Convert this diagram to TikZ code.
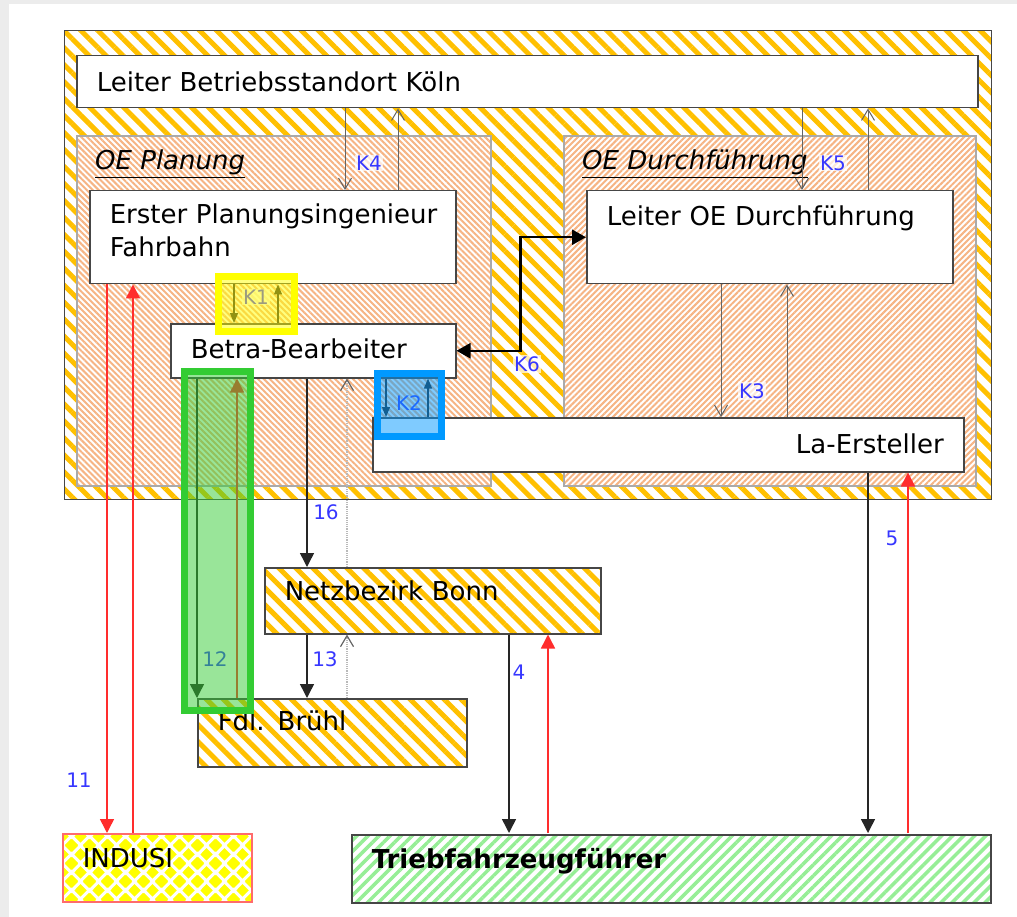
\documentclass[tikz,border=0pt]{standalone}
\usepackage{fontspec}
\setmainfont{DejaVu Sans}
\usetikzlibrary{arrows.meta,patterns,patterns.meta}
\definecolor{stripeyellow}{RGB}{255,192,0}
\definecolor{hatchorange}{RGB}{246,180,132}
\definecolor{stripegreen}{RGB}{150,238,150}
\definecolor{labelblue}{RGB}{55,55,255}
\definecolor{boxline}{RGB}{70,70,70}
\definecolor{regionline}{RGB}{170,170,170}
\definecolor{arrowred}{RGB}{255,45,45}
\definecolor{commgray}{RGB}{100,100,100}
\definecolor{markyellow}{RGB}{255,255,0}
\definecolor{markgreen}{RGB}{51,204,51}
\definecolor{markblue}{RGB}{0,153,255}
\newcommand{\indusidiamond}[2]{%
  \pgfpathmoveto{\pgfpoint{#1pt-6.5pt}{#2pt}}
  \pgfpathlineto{\pgfpoint{#1pt}{#2pt+6.5pt}}
  \pgfpathlineto{\pgfpoint{#1pt+6.5pt}{#2pt}}
  \pgfpathlineto{\pgfpoint{#1pt}{#2pt-6.5pt}}
  \pgfpathclose}
\pgfdeclarepatternformonly{indusi diamonds}{\pgfpointorigin}{\pgfpoint{18pt}{18pt}}{\pgfpoint{18pt}{18pt}}{%
  \indusidiamond{9}{9}
  \indusidiamond{0}{0}
  \indusidiamond{18}{0}
  \indusidiamond{0}{18}
  \indusidiamond{18}{18}
  \pgfusepath{fill}}
\newcommand{\boxfont}{\fontsize{26}{33}\selectfont}
\newcommand{\flowfont}{\fontsize{20}{24}\selectfont}
\tikzset{
  orgbox/.style={rectangle, draw=boxline, line width=1.5pt, inner xsep=20pt, inner ysep=0pt,
    anchor=north west, align=left, font=\boxfont, text height=19pt},
  whitebox/.style={orgbox, fill=white},
  stripebox/.style={orgbox, preaction={fill=white},
    pattern={Lines[angle=-45,distance=12pt,line width=5pt]}, pattern color=stripeyellow},
  region/.style={rectangle, draw=regionline, line width=1.2pt, anchor=north west, inner sep=0pt,
    preaction={fill=white},
    pattern={Lines[angle=#1,distance=4.2pt,line width=2pt]}, pattern color=hatchorange},
  regiontitle/.style={anchor=base west, font=\boxfont\itshape, inner sep=0pt},
  flow/.style={draw=black!85, line width=1.5pt, -{Triangle[width=14pt,length=14pt]}},
  redflow/.style={draw=arrowred, line width=1.5pt, -{Triangle[width=14pt,length=14pt]}},
  smallflow/.style={draw=black!85, line width=1.2pt, -{Triangle[width=8pt,length=10pt]}},
  comm/.style={draw=commgray, line width=1pt, -{Straight Barb[width=13pt,length=11pt]}},
  dotcomm/.style={draw=gray!55, line width=1.2pt, densely dotted,
    -{Straight Barb[width=13pt,length=11pt,color=commgray]}},
  bothflow/.style={draw=black, line width=2.5pt, {Triangle[width=15pt,length=14pt]}-{Triangle[width=15pt,length=14pt]}},
  flowlabel/.style={font=\flowfont, text=labelblue, fill=white, fill opacity=0.7, text opacity=1, inner sep=1pt},
  markbox/.style={draw=#1, line width=7pt, fill=#1, fill opacity=0.5}
}
\begin{document}
\begin{tikzpicture}[x=1pt,y=-1pt]
\useasboundingbox (0,0) rectangle (1017,917);
\fill[gray!15] (0,0) rectangle (9,917);
\fill[gray!15] (0,0) rectangle (1017,4);
% Betriebsstandort
\node[stripebox, minimum width=927pt, minimum height=469pt] (standort) at (62,28) {};
\node[whitebox, text width=861pt, text depth=0pt, minimum height=52pt] (leiter) at (76,55) {Leiter Betriebsstandort Köln};
\node[region=-45, minimum width=414pt, minimum height=350pt] (planung) at (76,135) {};
\node[region=45, minimum width=412pt, minimum height=350pt] (durchf) at (563,135) {};
\node[regiontitle] (planung-title) at ([shift={(19,35)}]planung.north west) {\underline{OE Planung}};
\node[regiontitle] (durchf-title) at ([shift={(19,35)}]durchf.north west) {\underline{OE Durchführung}};
\node[whitebox, text width=326pt, text depth=46pt, minimum height=93pt] (erster) at (89,190) {\mbox{Erster Planungsingenieur}\\Fahrbahn};
\node[whitebox, text width=326pt, text depth=42pt, minimum height=93pt] (ledurch) at (586,190) {Leiter OE Durchführung};
\node[whitebox, text width=245pt, text depth=3pt, minimum height=54pt] (betra) at (170,323) {Betra-Bearbeiter};
\node[whitebox, align=right, text width=551pt, text depth=1pt, minimum height=54pt] (laerst) at (372,417) {La-Ersteller};
% ausserhalb
\node[stripebox, text width=296pt, text depth=19pt, minimum height=66pt] (netz) at (264,567) {Netzbezirk Bonn};
\node[stripebox, text width=229pt, text depth=23pt, minimum height=68pt] (fdl) at (197,698) {Fdl. Brühl};
\node[orgbox, draw=arrowred!70, preaction={fill=white}, pattern=indusi diamonds, pattern color=markyellow,
  text width=149pt, text depth=19pt, minimum height=68pt] (indusi) at (62,833) {INDUSI};
\node[orgbox, preaction={fill=white}, pattern={Lines[angle=45,distance=7.8pt,line width=3.5pt]}, pattern color=stripegreen,
  font=\boxfont\bfseries, text width=599pt, text depth=19pt, minimum height=68pt] (trieb) at (350,833) {Triebfahrzeugführer};
% Kommunikation
\draw[comm] (leiter.south -| 345,0) -- (erster.north -| 345,0);
\draw[comm] (erster.north -| 398,0) -- (leiter.south -| 398,0);
\draw[comm] (leiter.south -| 802,0) -- (ledurch.north -| 802,0);
\draw[comm] (ledurch.north -| 868,0) -- (leiter.south -| 868,0);
\draw[comm] (ledurch.south -| 721,0) -- (laerst.north -| 721,0);
\draw[comm] (laerst.north -| 787,0) -- (ledurch.south -| 787,0);
\draw[smallflow] (erster.south -| 234,0) -- (betra.north -| 234,0);
\draw[smallflow] (betra.north -| 278,0) -- (erster.south -| 278,0);
\draw[smallflow] (betra.south -| 386,0) -- (laerst.north -| 386,0);
\draw[smallflow] (laerst.north -| 428,0) -- (betra.south -| 428,0);
\draw[bothflow] (betra.east) -- ++(64,0) |- (ledurch.west);
\draw[flow] (betra.south -| 307,0) -- (netz.north -| 307,0);
\draw[dotcomm] (netz.north -| 347,0) -- (betra.south -| 347,0);
\draw[flow] (netz.south -| 307,0) -- (fdl.north -| 307,0);
\draw[dotcomm] (fdl.north -| 347,0) -- (netz.south -| 347,0);
\draw[flow] (betra.south -| 197,0) -- (fdl.north -| 197,0);
\draw[redflow] (fdl.north -| 237,0) -- (betra.south -| 237,0);
\draw[redflow] (erster.south -| 107,0) -- (indusi.north -| 107,0);
\draw[redflow] (indusi.north -| 133,0) -- (erster.south -| 133,0);
\draw[flow] (netz.south -| 509,0) -- (trieb.north -| 509,0);
\draw[redflow] (trieb.north -| 548,0) -- (netz.south -| 548,0);
\draw[flow] (laerst.south -| 868,0) -- (trieb.north -| 868,0);
\draw[redflow] (trieb.north -| 908,0) -- (laerst.south -| 908,0);
% Nummern
\node[flowlabel] (lk1) at (256,297) {K1};
\node[flowlabel, fill opacity=0] (lk2) at (409,403) {K2};
\node[flowlabel] (lk3) at (752,391) {K3};
\node[flowlabel] (lk4) at (369,163) {K4};
\node[flowlabel] (lk5) at (833,163) {K5};
\node[flowlabel] (lk6) at (527,364) {K6};
\node[flowlabel] (l16) at (326,512) {16};
\node[flowlabel] (l13) at (325,659) {13};
\node[flowlabel, fill opacity=0] (l12) at (215,659) {12};
\node[flowlabel] (l11) at (79,780) {11};
\node[flowlabel] (l4) at (519,672) {4};
\node[flowlabel] (l5) at (892,538) {5};
% Markierungen
\draw[markbox=markyellow] (218.5,276.5) rectangle (294.5,331.5);
\draw[markbox=markgreen] (184.5,371.5) rectangle (250.5,710.5);
\draw[markbox=markblue] (377,373) rectangle (441,436);
\end{tikzpicture}
\end{document}
